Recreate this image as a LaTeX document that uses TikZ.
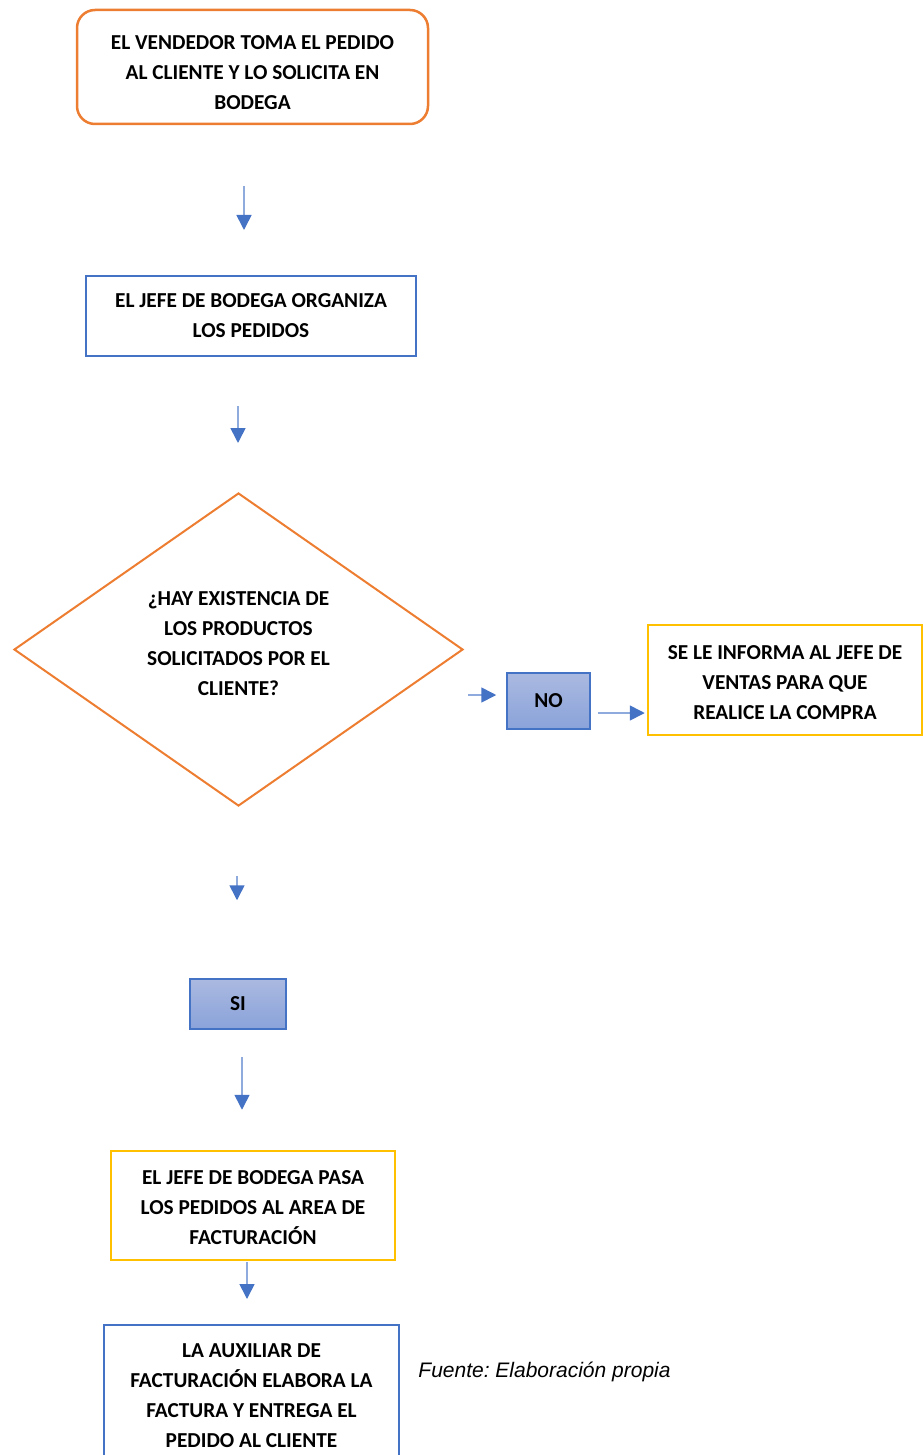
\documentclass[tikz,border=0pt]{standalone}
\usepackage{fontspec}
\setmainfont{Carlito}
\newfontfamily\fuentefont{Liberation Sans}
\usetikzlibrary{shapes.geometric, arrows.meta, positioning}
\definecolor{colorNaranja}{HTML}{ED7D31}
\definecolor{colorAzul}{HTML}{4472C4}
\definecolor{colorAmarillo}{HTML}{FFC000}
\definecolor{flechaClaro}{HTML}{8FAADC}
\definecolor{rellenoSup}{HTML}{AAB9E0}
\definecolor{rellenoInf}{HTML}{8AA3DA}

\begin{document}
\frenchspacing
\begin{tikzpicture}[
        x=1pt, y=-1pt,
        txt/.style={font=\bfseries\fontsize{21.3}{30}\selectfont, align=center, inner sep=0pt},
        m/.style={txt, draw, line width=2pt},
        dec/.style={txt, draw=colorNaranja, line width=2pt, diamond, aspect=1.434,
            minimum width=449pt, minimum height=313pt},
        resp/.style={txt, draw=colorAzul, line width=1.5pt, top color=rellenoSup, bottom color=rellenoInf},
        rel/.style={-{Triangle[length=15pt, width=15pt, color=colorAzul]}, flechaClaro, line width=1.6pt}
    ]
        \useasboundingbox (0,0) rectangle (923,1455);
        \node[m, draw=colorNaranja, line width=2.5pt, rounded corners=18pt,
            minimum width=351pt, minimum height=114pt] (inicio) at (252.5,67)
            {\rule{0pt}{26pt}EL VENDEDOR TOMA EL PEDIDO\\AL CLIENTE Y LO SOLICITA EN\\BODEGA};
        \node[m, draw=colorAzul, minimum width=330pt, minimum height=80pt] (organiza) at (251,316)
            {EL JEFE DE BODEGA ORGANIZA\\LOS PEDIDOS};
        \node[dec, text depth=12pt] (existencia) at (238.5,649.5)
            {¿HAY EXISTENCIA DE\\LOS PRODUCTOS\\SOLICITADOS POR EL\\CLIENTE?};
        \node[resp, minimum width=83pt, minimum height=56pt] (no) at (548.5,701) {NO};
        \node[m, draw=colorAmarillo, line width=2.5pt, minimum width=274pt, minimum height=110pt]
            (informa) at (785,680) {\rule{0pt}{20pt}SE LE INFORMA AL JEFE DE\\VENTAS PARA QUE\\REALICE LA COMPRA};
        \node[resp, minimum width=96pt, minimum height=50pt] (si) at (238,1004) {SI};
        \node[m, draw=colorAmarillo, line width=2.5pt, minimum width=284pt, minimum height=109pt]
            (pasa) at (253,1205.5) {\rule{0pt}{19pt}EL JEFE DE BODEGA PASA\\LOS PEDIDOS AL AREA DE\\FACTURACIÓN};
        \node[m, draw=colorAzul, minimum width=295pt, minimum height=142pt] (auxiliar) at (251.5,1396)
            {LA AUXILIAR DE\\FACTURACIÓN ELABORA LA\\FACTURA Y ENTREGA EL\\PEDIDO AL CLIENTE};
        \node[font=\fuentefont\itshape\fontsize{21}{24}\selectfont, inner sep=0pt] (fuente) at (544.5,1372)
            {Fuente: Elaboración propia};
        % flechas
        \draw[rel, shorten <=61pt, shorten >=45pt] ([xshift=-8.5pt]inicio.south) -- ([xshift=-7pt]organiza.north);
        \draw[rel, shorten <=49pt, shorten >=49pt] ([xshift=-13pt]organiza.south) -- ([xshift=-0.5pt]existencia.north);
        \draw[rel, shorten <=4pt, shorten >=10pt] ([yshift=6pt]no.west -| existencia.east) -- ([yshift=6pt]no.west);
        \draw[rel, shorten <=7pt, shorten >=2pt] ([yshift=-12pt]no.east) -- ([yshift=-12pt]no.east -| informa.west);
        \draw[rel, shorten <=69pt, shorten >=78pt] ([xshift=-1.5pt]existencia.south) -- ([xshift=-1pt]si.north);
        \draw[rel, shorten <=27pt, shorten >=40pt] ([xshift=4pt]si.south) -- ([xshift=-11pt]pasa.north);
        \draw[rel, shorten <=1pt, shorten >=25pt] ([xshift=-6pt]pasa.south) -- ([xshift=-4.5pt]auxiliar.north);
    \end{tikzpicture}
\end{document}
